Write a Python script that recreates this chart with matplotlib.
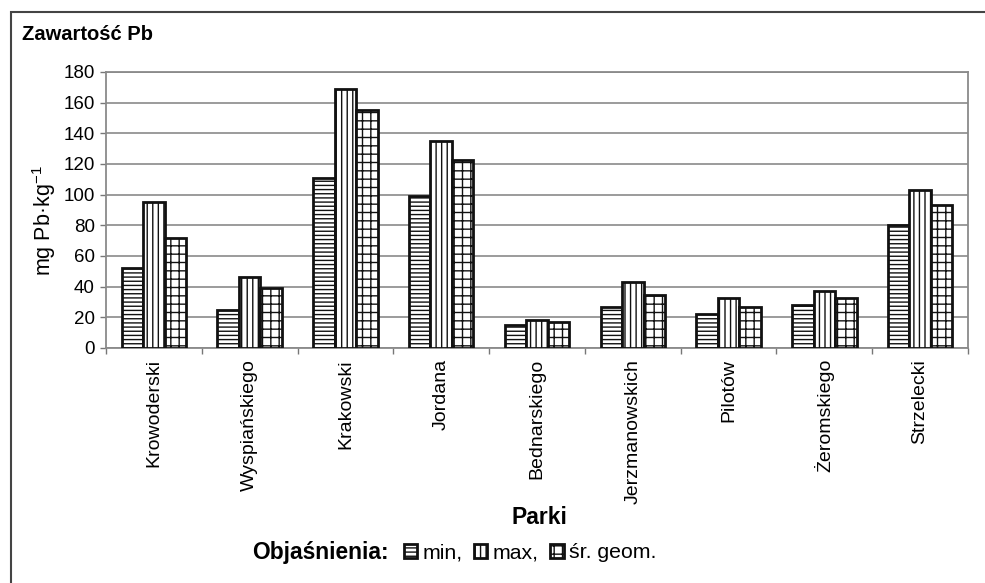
import matplotlib
matplotlib.use("Agg")
import matplotlib.pyplot as plt
from matplotlib.patches import Rectangle
import numpy as np

plt.rcParams['font.family'] = ['Liberation Sans', 'DejaVu Sans']
plt.rcParams['mathtext.default'] = 'regular'
plt.rcParams['hatch.linewidth'] = 1.0
plt.rcParams['hatch.color'] = '#2a2a2a'

parks = ["Krowoderski", "Wyspiańskiego", "Krakowski", "Jordana", "Bednarskiego",
         "Jerzmanowskich", "Pilotów", "Żeromskiego", "Strzelecki"]
val_min = [52, 25, 111, 99, 15, 27, 22, 28, 80]
val_max = [95, 46, 169, 135, 18.5, 43, 32.5, 37, 103]
val_geo = [72, 39, 155.5, 122.5, 17, 34.5, 27, 32.5, 93.5]
series_labels = ["min,", "max,", "śr. geom."]
hatches = ["----", "|||", "++"]

fig = plt.figure(figsize=(9.85, 5.83), dpi=100)
ax = fig.add_axes([106/985, 1 - 348/583, (968 - 106)/985, (348 - 72)/583])

x = np.arange(len(parks))
w = 0.224
bars = []
for i, (vals, h) in enumerate(zip([val_min, val_max, val_geo], hatches)):
    b = ax.bar(x + (i - 1) * w, vals, width=w, facecolor='white', edgecolor='#111111',
               linewidth=2.0, hatch=h, zorder=3)
    bars.append(b)

ax.set_xlim(-0.5, len(parks) - 0.5)
ax.set_ylim(0, 180)
ax.set_yticks(np.arange(0, 181, 20))
ax.yaxis.grid(True, color='#8a8a8a', linewidth=1.2, zorder=0)
ax.set_axisbelow(True)
ax.tick_params(axis='y', labelsize=13.5, length=4, width=1, color='#777777', pad=4)

ax.set_xticks(x)
ax.set_xticklabels(parks, rotation=90, fontsize=14)
ax.set_xticks(np.arange(-0.5, len(parks)), minor=True)
ax.tick_params(axis='x', which='major', length=0, pad=8)
ax.tick_params(axis='x', which='minor', length=4, width=1, color='#777777')

for s in ax.spines.values():
    s.set_color('#8a8a8a')
    s.set_linewidth(1.3)

# outer frame
fig.patches.append(Rectangle((11/985, -0.1), 1.2, 1.1 - 12/583, transform=fig.transFigure,
                             fill=False, edgecolor='#444444', linewidth=1.5))

fig.text(22/985, 1 - 35/583, "Zawartość Pb", fontsize=14.5, fontweight='bold', va='center', ha='left')
fig.text(44/985, 1 - 221/583, "mg Pb·kg$^{-1}$", fontsize=15.5, rotation=90, va='center', ha='center')
fig.text(539/985, 1 - 518/583, "Parki", fontsize=16.5, fontweight='bold', va='center', ha='center')
fig.text(252/985, 1 - 553/583, "Objaśnienia:", fontsize=16.4, fontweight='bold', va='center', ha='left')

fig.legend(bars, series_labels, ncol=3, loc='center left', bbox_to_anchor=(404/985, 1 - 553/583),
           frameon=False, fontsize=15.3, handlelength=0.62, handleheight=0.62, handletextpad=0.25,
           columnspacing=0.55, borderpad=0, borderaxespad=0)

fig.savefig("out.png", dpi=100)
